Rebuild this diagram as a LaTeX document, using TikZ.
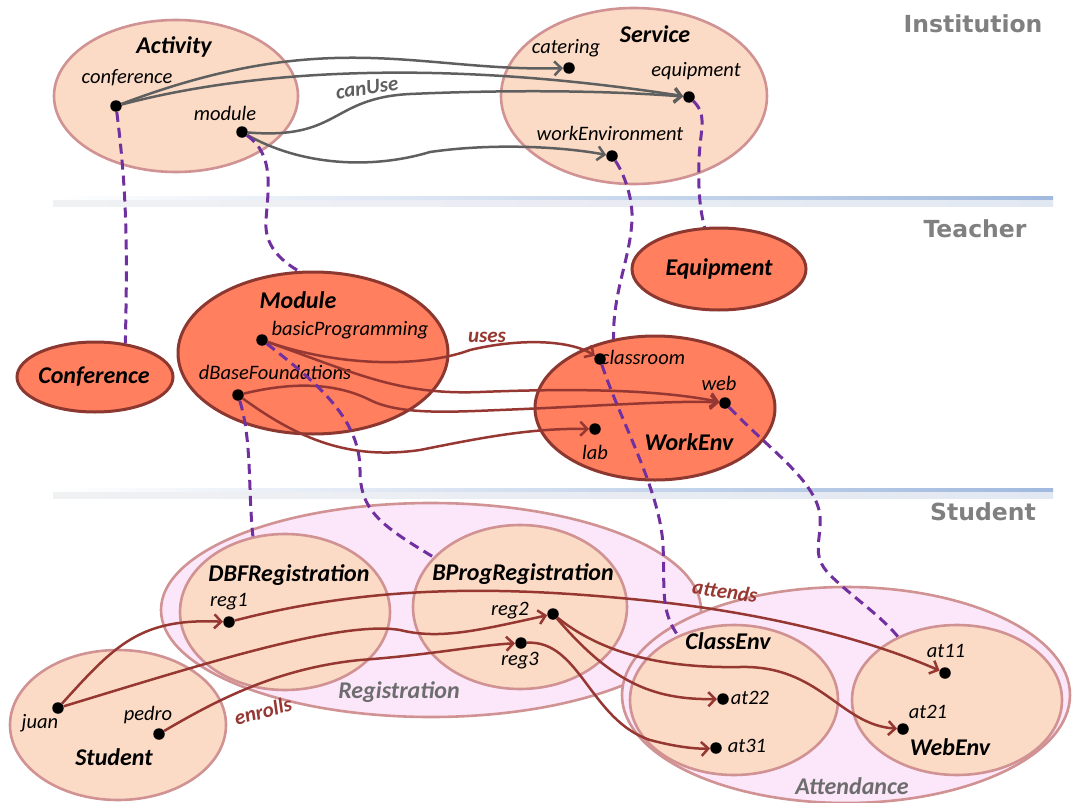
\documentclass[tikz,border=0pt]{standalone}
\usepackage{fontspec}
\setmainfont{Carlito}
\newfontfamily\layerfont{DejaVu Sans}
\usetikzlibrary{shapes.geometric,arrows.meta}

\definecolor{peach}{RGB}{251,219,197}
\definecolor{rosy}{RGB}{208,146,146}
\definecolor{coral}{RGB}{255,127,95}
\definecolor{darkrim}{RGB}{140,56,48}
\definecolor{pinkset}{RGB}{252,230,250}
\definecolor{relred}{RGB}{150,55,50}
\definecolor{relgray}{RGB}{95,95,95}
\definecolor{mapviolet}{RGB}{112,48,160}
\definecolor{layergray}{RGB}{128,128,128}
\definecolor{sepL}{RGB}{240,241,243}
\definecolor{sepR}{RGB}{226,232,242}
\definecolor{sepEdge}{RGB}{160,185,222}

\tikzset{
  classbox/.style={ellipse, draw=rosy, fill=peach, line width=2.6pt, inner sep=0pt},
  teachbox/.style={ellipse, draw=darkrim, fill=coral, line width=3pt, inner sep=0pt},
  setbox/.style={ellipse, draw=rosy, fill=pinkset, line width=2.6pt, inner sep=0pt},
  dot/.style={circle, fill=black, inner sep=0pt, minimum size=11.5pt},
  title/.style={inner sep=0pt, font=\fontsize{24}{28}\selectfont\bfseries\itshape},
  lbl/.style={inner sep=0pt, font=\fontsize{20.5}{24}\selectfont\itshape},
  rellbl/.style={inner sep=0pt, font=\fontsize{21}{25}\selectfont\bfseries\itshape},
  layer/.style={inner sep=0pt, text=layergray, font=\layerfont\bfseries\fontsize{23.5}{27}\selectfont},
  grayarr/.style={draw=relgray, line width=2.5pt, -{Straight Barb[length=7pt,width=14pt]}},
  redarr/.style={draw=relred, line width=2.5pt, -{Straight Barb[length=7pt,width=14pt]}},
  mapline/.style={draw=mapviolet, line width=3pt, dash pattern=on 10pt off 6pt}
}

\begin{document}
\begin{tikzpicture}[x=1pt,y=-1pt]
\useasboundingbox (0,0) rectangle (1072,803);

% layer separators
\shade[left color=sepL, right color=sepR] (53,196) rectangle (1053,206);
\shade[left color=white, right color=sepEdge] (53,196) rectangle (1053,199.5);
\shade[left color=sepL, right color=sepR] (53,488) rectangle (1053,498);
\shade[left color=white, right color=sepEdge] (53,488) rectangle (1053,491.5);

% layer names
\node[layer] (Linst) at (973,24) {Institution};
\node[layer] (Lteach) at (975,229) {Teacher};
\node[layer] (Lstud) at (983,512) {Student};

% Institution layer
\node[classbox, minimum width=244pt, minimum height=152pt] (Activity) at (176,96) {};
\node[classbox, minimum width=266pt, minimum height=176pt] (Service) at (634,96) {};

% Teacher layer
\node[teachbox, minimum width=174pt, minimum height=82pt] (Equipment) at (719,269) {};
\node[teachbox, minimum width=270pt, minimum height=162pt] (Module) at (313,353) {};
\node[teachbox, minimum width=156pt, minimum height=70pt] (Conference) at (95,377) {};
\node[teachbox, minimum width=240pt, minimum height=144pt] (WorkEnv) at (655,408) {};

% Student layer
\node[setbox, minimum width=540pt, minimum height=214pt] (Registration) at (431,610) {};
\node[setbox, minimum width=448pt, minimum height=216pt] (Attendance) at (846,695) {};
\node[classbox, minimum width=210pt, minimum height=156pt] (DBFRegistration) at (285,612) {};
\node[classbox, minimum width=214pt, minimum height=164pt] (BProgRegistration) at (520,607) {};
\node[classbox, minimum width=208pt, minimum height=150pt] (ClassEnv) at (734,700) {};
\node[classbox, minimum width=210pt, minimum height=150pt] (WebEnv) at (957,700) {};
\node[classbox, minimum width=216pt, minimum height=150pt] (Student) at (118,725) {};

% titles and labels
\node[title] (tActivity) at (174,47) {Activity};
\node[lbl] (tconf) at (127,78) {conference};
\node[lbl] (tmod) at (225,113) {module};
\node[rellbl, text=relgray, rotate=8] (tcanUse) at (367,88) {canUse};
\node[title] (tService) at (655,34) {Service};
\node[lbl] (tcater) at (566,48) {catering};
\node[lbl] (tequip) at (696,71) {equipment};
\node[lbl] (twenv) at (610,133) {workEnvironment};

\node[title] (tEquipment) at (719,269) {Equipment};
\node[title] (tModule) at (298,300) {Module};
\node[lbl] (tbprog) at (350,330) {basicProgramming};
\node[lbl] (tdbase) at (275,372) {dBaseFoundations};
\node[rellbl, text=relred] (tuses) at (487,337) {uses};
\node[title] (tConference) at (94,377) {Conference};
\node[lbl] (tcls) at (643,357) {classroom};
\node[lbl] (tweb) at (719,383) {web};
\node[lbl] (tlab) at (595,452) {lab};
\node[title] (tWorkEnv) at (689,442) {WorkEnv};

\node[title] (tDBF) at (289,575) {DBFRegistration};
\node[title] (tBProg) at (523,574) {BProgRegistration};
\node[lbl] (treg1) at (229,602) {reg1};
\node[lbl] (treg2) at (510,611) {reg2};
\node[lbl] (treg3) at (520,661) {reg3};
\node[title, text=layergray!85!black] (tRegistration) at (399,692) {Registration};
\node[rellbl, text=relred, rotate=15] (tenrolls) at (263,711) {enrolls};
\node[lbl] (tjuan) at (40,723) {juan};
\node[lbl] (tpedro) at (148,715) {pedro};
\node[title] (tStudent) at (114,757) {Student};
\node[rellbl, text=relred, rotate=-8] (tattends) at (725,591) {attends};
\node[title] (tClassEnv) at (728,641) {ClassEnv};
\node[lbl] (tat22) at (750,698) {at22};
\node[lbl] (tat31) at (747,746) {at31};
\node[lbl] (tat11) at (946,651) {at11};
\node[lbl] (tat21) at (928,712) {at21};
\node[title] (tWebEnv) at (950,747) {WebEnv};
\node[title, text=layergray!85!black] (tAttendance) at (852,786) {Attendance};

% instances
\node[dot] (conf) at (116,106) {};
\node[dot] (mod) at (242,132) {};
\node[dot] (cater) at (569,68) {};
\node[dot] (equip) at (689,97) {};
\node[dot] (wenv) at (612,156) {};
\node[dot] (bprog) at (262,340) {};
\node[dot] (dbase) at (238,395) {};
\node[dot] (cls) at (600,359) {};
\node[dot] (web) at (725,403) {};
\node[dot] (lab) at (595,429) {};
\node[dot] (reg1) at (229,622) {};
\node[dot] (reg2) at (553,614) {};
\node[dot] (reg3) at (521,643) {};
\node[dot] (juan) at (58,708) {};
\node[dot] (pedro) at (159,734) {};
\node[dot] (at11) at (945,673) {};
\node[dot] (at22) at (723,699) {};
\node[dot] (at31) at (716,748) {};
\node[dot] (at21) at (903,729) {};

% canUse
\draw[grayarr] (conf) .. controls (330,25) and (420,72) .. (cater);
\draw[grayarr] (conf) .. controls (260,68) and (450,60) .. (equip);
\draw[grayarr] (mod) .. controls (340,140) and (330,98) .. (410,94) .. controls (500,90) and (600,90) .. (equip);
\draw[grayarr] (mod) .. controls (300,165) and (370,170) .. (430,152) .. controls (500,142) and (570,148) .. (wenv);

% uses
\draw[redarr] (bprog) .. controls (350,370) and (430,365) .. (470,350) .. controls (520,338) and (570,340) .. (cls);
\draw[redarr] (bprog) .. controls (360,375) and (400,395) .. (480,392) .. controls (580,388) and (660,390) .. (web);
\draw[redarr] (dbase) .. controls (300,380) and (340,385) .. (370,400) .. controls (400,415) and (450,412) .. (500,410) .. controls (600,406) and (680,400) .. (web);
\draw[redarr] (dbase) .. controls (300,440) and (350,460) .. (420,450) .. controls (480,438) and (530,428) .. (lab);

% enrolls
\draw[redarr] (juan) .. controls (115,645) and (140,618) .. (reg1);
\draw[redarr] (juan) .. controls (200,665) and (340,620) .. (400,630) .. controls (440,640) and (480,630) .. (reg2);
\draw[redarr] (pedro) .. controls (220,698) and (280,668) .. (360,660) .. controls (430,655) and (480,645) .. (reg3);

% attends
\draw[redarr] (reg1) .. controls (360,588) and (480,585) .. (620,598) .. controls (760,610) and (870,640) .. (at11);
\draw[redarr] (reg2) .. controls (610,680) and (650,700) .. (at22);
\draw[redarr] (reg2) .. controls (610,660) and (680,668) .. (740,667) .. controls (820,665) and (840,725) .. (at21);
\draw[redarr] (reg3) .. controls (580,640) and (590,720) .. (650,740) .. controls (680,748) and (700,749) .. (at31);

% layer mappings
\draw[mapline] (conf) .. controls (128,200) and (127,260) .. (Conference.48);
\draw[mapline] (mod) .. controls (275,155) and (268,190) .. (266,220) .. controls (264,245) and (280,260) .. (Module.100);
\draw[mapline] (equip) .. controls (708,115) and (700,130) .. (699,160) .. controls (698,190) and (700,210) .. (Equipment.109);
\draw[mapline] (wenv) .. controls (625,175) and (633,200) .. (632,220) .. controls (630,260) and (613,290) .. (WorkEnv.121);
\draw[mapline] (dbase) .. controls (252,440) and (248,490) .. (DBFRegistration.113);
\draw[mapline] (bprog) .. controls (320,385) and (360,420) .. (360,470) .. controls (360,510) and (380,525) .. (BProgRegistration.150);
\draw[mapline] (cls) .. controls (620,420) and (660,490) .. (663,545) .. controls (665,590) and (660,610) .. (ClassEnv.131);
\draw[mapline] (web) .. controls (770,450) and (815,480) .. (820,515) .. controls (822,540) and (810,555) .. (830,575) .. controls (850,595) and (880,615) .. (WebEnv.133);
\end{tikzpicture}
\end{document}
